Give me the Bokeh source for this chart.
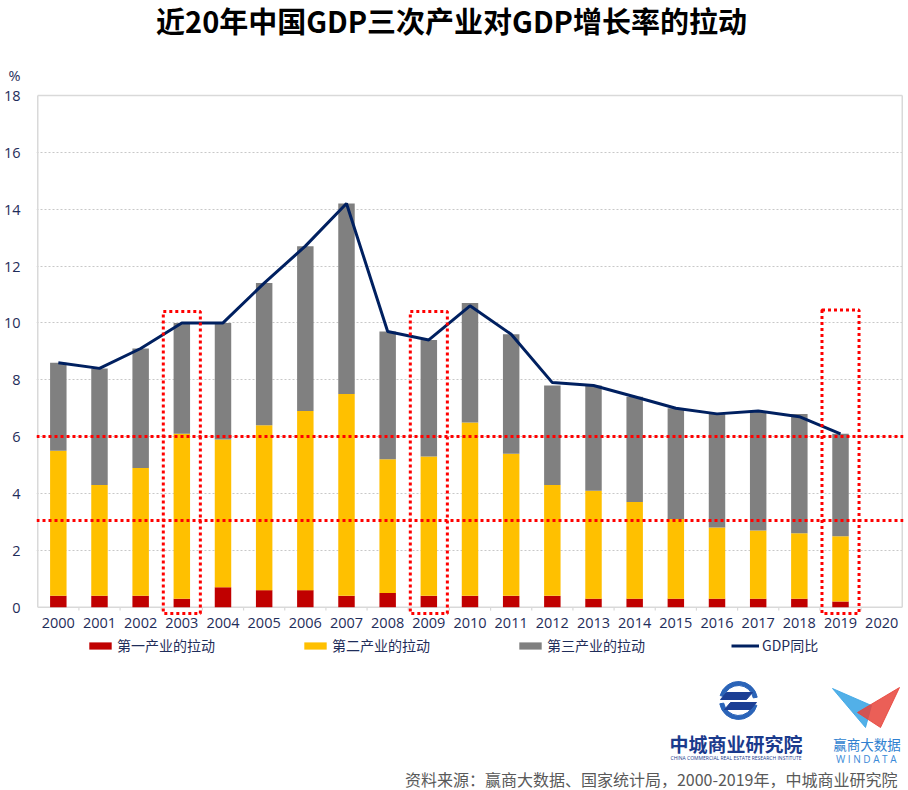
from bokeh.plotting import figure
from bokeh.models import (ColumnDataSource, Range1d, FixedTicker, Legend, LegendItem,
                          Label, Span)
from bokeh.embed import file_html
from bokeh.resources import INLINE

# ---------------- data ----------------
years = ["2000", "2001", "2002", "2003", "2004", "2005", "2006", "2007", "2008", "2009",
         "2010", "2011", "2012", "2013", "2014", "2015", "2016", "2017", "2018", "2019", "2020"]
data_years = ["2000", "2001", "2002", "2003", "2004", "2005", "2006", "2007", "2008", "2009",
              "2010", "2011", "2012", "2013", "2014", "2015", "2016", "2017", "2018", "2019"]
primary = [0.4, 0.4, 0.4, 0.3, 0.7, 0.6, 0.6, 0.4, 0.5, 0.4,
           0.4, 0.4, 0.4, 0.3, 0.3, 0.3, 0.3, 0.3, 0.3, 0.2]
secondary = [5.1, 3.9, 4.5, 5.8, 5.2, 5.8, 6.3, 7.1, 4.7, 4.9,
             6.1, 5.0, 3.9, 3.8, 3.4, 2.8, 2.5, 2.4, 2.3, 2.3]
tertiary = [3.1, 4.1, 4.2, 3.9, 4.1, 5.0, 5.8, 6.7, 4.5, 4.1,
            4.2, 4.2, 3.5, 3.7, 3.7, 3.9, 4.0, 4.2, 4.2, 3.6]
gdp = [8.6, 8.4, 9.1, 10.0, 10.0, 11.4, 12.7, 14.2, 9.7, 9.4,
       10.6, 9.6, 7.9, 7.8, 7.4, 7.0, 6.8, 6.9, 6.7, 6.1]
series_names = ["第一产业的拉动", "第二产业的拉动", "第三产业的拉动", "GDP同比"]
y_ticks = [0, 2, 4, 6, 8, 10, 12, 14, 16, 18]
grid_ticks = [2, 4, 6, 8, 10, 12, 14, 16]
highlight_years = ["2003", "2009", "2019"]
highlight_tops = [10.4, 10.4, 10.45]
highlight_bottom = -0.22
threshold_levels = [6.0, 3.05]
title_text = "近20年中国GDP三次产业对GDP增长率的拉动"
unit_text = "%"
source_text = "资料来源：赢商大数据、国家统计局，2000-2019年，中城商业研究院"
logo1_name = "中城商业研究院"
logo1_sub = "CHINA COMMERCIAL REAL ESTATE RESEARCH INSTITUTE"
logo2_name = "赢商大数据"
logo2_sub = "W I N  D A T A"

# ---------------- style / layout ----------------
NAVY = "#1F2D5A"
CJK = "Noto Sans CJK SC"
LATIN = "Open Sans"
C_RED, C_YEL, C_GREY, C_LINE = "#C00000", "#FFC000", "#808080", "#002060"
BORDER = "#D9D9D9"
W, H = 908, 790
LEFT, RIGHT = 36, 5
n = len(years)
X0, X1 = -0.03, n + 0.03
PX_PER_X = (W - LEFT - RIGHT) / (X1 - X0)
PX_PER_Y = 28.43
ZERO_PY = 606.7
Y0, Y1 = (ZERO_PY - H) / PX_PER_Y, ZERO_PY / PX_PER_Y


def X(px):  # page pixel -> data x
    return X0 + (px - LEFT) / PX_PER_X


def Y(py):  # page pixel -> data y
    return (ZERO_PY - py) / PX_PER_Y


pos = {y: i + 0.5 for i, y in enumerate(years)}
src = ColumnDataSource(dict(x=[pos[y] for y in data_years], primary=primary,
                            secondary=secondary, tertiary=tertiary, gdp=gdp))

p = figure(width=W, height=H, x_range=Range1d(X0, X1), y_range=Range1d(Y0, Y1),
           output_backend="svg", toolbar_location=None,
           min_border_left=LEFT, min_border_right=RIGHT, min_border_top=0, min_border_bottom=0)
p.outline_line_color = None

# axes
unit_pos = Y(74.5)
p.xaxis.fixed_location = 0
p.xaxis.ticker = FixedTicker(ticks=[pos[y] for y in years])
p.xaxis.major_label_overrides = {pos[y]: y for y in years}
p.yaxis.ticker = FixedTicker(ticks=y_ticks + [unit_pos])
p.yaxis.major_label_overrides = {unit_pos: unit_text}
for ax in (p.xaxis, p.yaxis):
    ax.axis_line_color = None
    ax.major_tick_line_color = None
    ax.minor_tick_line_color = None
    ax.major_tick_in = 0
    ax.major_tick_out = 0
    ax.major_label_text_color = NAVY
    ax.major_label_text_font = LATIN
p.xaxis.major_label_text_font_size = "14.5px"
p.yaxis.major_label_text_font_size = "14.5px"
p.xaxis.major_label_standoff = 11
p.yaxis.major_label_standoff = 16

p.xgrid.grid_line_color = None
p.ygrid.ticker = FixedTicker(ticks=grid_ticks)
p.ygrid.grid_line_color = "#C8C8C8"
p.ygrid.grid_line_dash = "2 2"
p.ygrid.grid_line_width = 1

# plot-area box and category ticks
top = y_ticks[-1]
p.segment(x0=[0, 0, n, 0], y0=[top, 0, 0, 0], x1=[n, 0, n, n], y1=[top, top, top, 0],
          line_color=BORDER, line_width=1.5)
p.segment(x0=list(range(1, n)), y0=[0] * (n - 1), x1=list(range(1, n)), y1=[-0.12] * (n - 1),
          line_color=BORDER, line_width=1.2)

# bars and GDP line
bars = p.vbar_stack(["primary", "secondary", "tertiary"], x="x", width=0.4,
                    color=[C_RED, C_YEL, C_GREY], line_color=None, source=src)
gline = p.line("x", "gdp", source=src, line_color=C_LINE, line_width=3)

# highlights
hx = [pos[y] for y in highlight_years]
p.quad(left=[x - 0.45 for x in hx], right=[x + 0.45 for x in hx],
       bottom=[highlight_bottom] * len(hx), top=highlight_tops,
       fill_color=None, line_color="#FF0000", line_width=3, line_dash="3 3")
for lv in threshold_levels:
    p.add_layout(Span(location=lv, dimension="width", line_color="#FF0000",
                      line_width=3, line_dash="3 3"))

# legend
items = [LegendItem(label=series_names[i], renderers=[bars[i]]) for i in range(3)]
items.append(LegendItem(label=series_names[3], renderers=[gline]))
legend = Legend(items=items, location=(50, H - 655), orientation="horizontal", spacing=86,
                padding=0, margin=0, glyph_width=28, glyph_height=9, label_standoff=3,
                label_height=14, label_text_font=CJK, label_text_font_size="14px",
                label_text_color=NAVY, border_line_color=None, background_fill_alpha=0)
p.add_layout(legend, "center")

# title
p.add_layout(Label(x=X(451), y=Y(19.5), text=title_text, text_align="center",
                   text_baseline="middle", text_font=CJK, text_font_size="29px",
                   text_font_style="bold", text_color="#000000"))

# logo 1
p.annular_wedge(x=[X(738)] * 2, y=[Y(700)] * 2, inner_radius=15, outer_radius=19,
                inner_radius_units="screen", outer_radius_units="screen",
                start_angle=[10, 190], end_angle=[165, 345], start_angle_units="deg",
                end_angle_units="deg", color="#2B64B8")
p.patches(xs=[[X(v) for v in (726, 752, 746, 720)], [X(v) for v in (730, 756, 750, 724)]],
          ys=[[Y(v) for v in (692, 692, 699, 699)], [Y(v) for v in (702, 702, 709, 709)]],
          color="#1C3F94")
p.add_layout(Label(x=X(735.5), y=Y(742.5), text=logo1_name, text_align="center",
                   text_baseline="middle", text_font=CJK, text_font_size="19px",
                   text_font_style="bold", text_color="#1B3A8C"))
p.add_layout(Label(x=X(735.5), y=Y(757), text=logo1_sub, text_align="center",
                   text_baseline="middle", text_font=LATIN, text_font_size="5px",
                   text_color="#1B3A8C"))
# logo 2
p.patch(x=[X(v) for v in (832, 871, 865)], y=[Y(v) for v in (688, 705, 727)],
        color="#3FA7E6", alpha=0.9)
p.patch(x=[X(v) for v in (899, 857, 880)], y=[Y(v) for v in (687, 712, 727)],
        color="#E8433A", alpha=0.85)
p.add_layout(Label(x=X(866.5), y=Y(743), text=logo2_name, text_align="center",
                   text_baseline="middle", text_font=CJK, text_font_size="13.5px",
                   text_color="#2F7FD0"))
p.add_layout(Label(x=X(867), y=Y(758), text=logo2_sub, text_align="center",
                   text_baseline="middle", text_font=LATIN, text_font_size="10px",
                   text_color="#3A8AD8"))
# source
p.add_layout(Label(x=X(897), y=Y(778), text=source_text, text_align="right",
                   text_baseline="middle", text_font=CJK, text_font_size="16px",
                   text_color="#595959"))

open("out.html", "w").write(file_html(p, INLINE))
